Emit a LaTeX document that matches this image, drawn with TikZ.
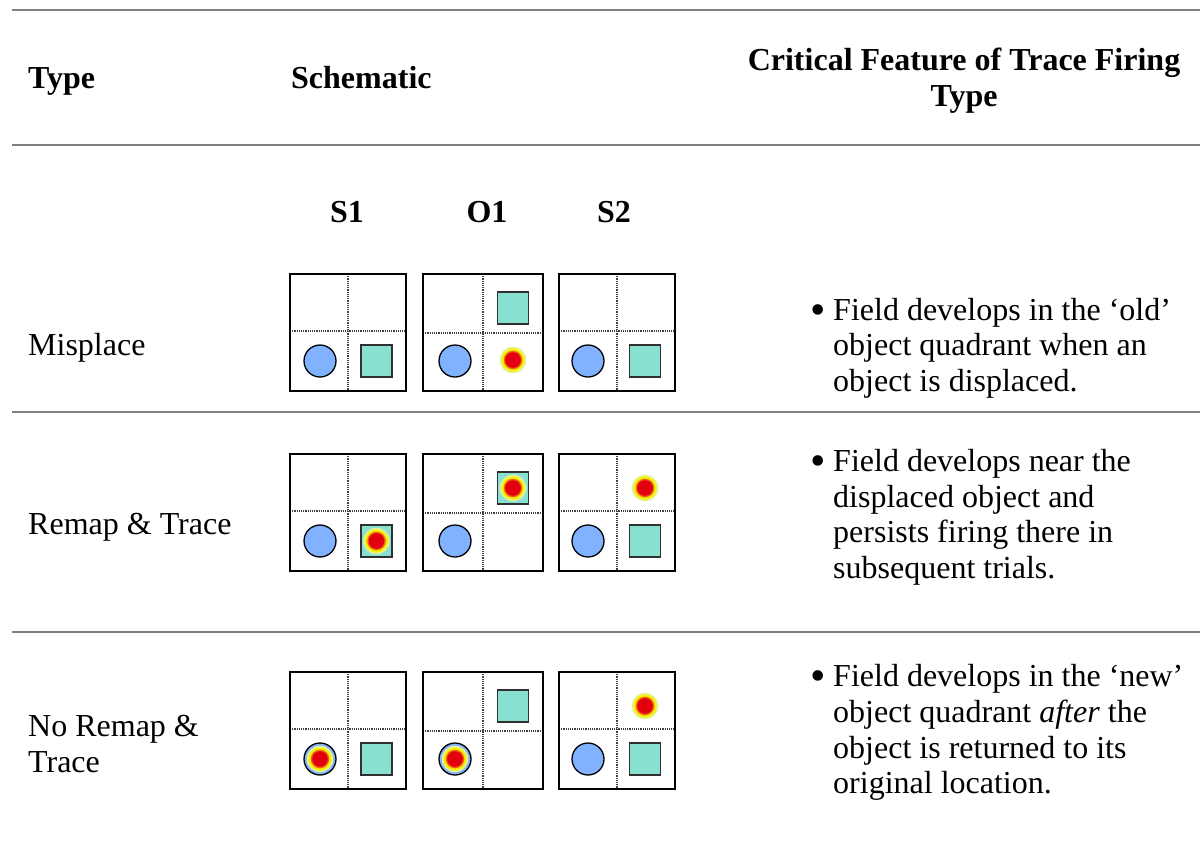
\documentclass[tikz,border=0pt]{standalone}
\usepackage{fontspec}
\setmainfont{Liberation Serif}
\definecolor{rulegray}{HTML}{808080}
\definecolor{objblue}{HTML}{80B2FF}
\definecolor{objteal}{HTML}{88E0D0}
\definecolor{sqedge}{HTML}{303030}
\definecolor{divgray}{HTML}{404040}
\definecolor{fhalo}{HTML}{E8F290}
\definecolor{fyellow}{HTML}{F4EE00}
\definecolor{forange}{HTML}{F06010}
\definecolor{fred}{HTML}{E2000F}
\newcommand\bodyfont{\fontsize{32}{36}\selectfont}
\newcommand\bulletfont{\fontsize{44}{48}\selectfont}
% panel: left, top, right, vertical divider x, horizontal divider offset
\newcommand\drawpanel[5]{%
  \draw[divider] (#4,#2) -- (#4,#2+117);
  \draw[divider] (#1,#2+#5) -- (#3,#2+#5);
  \draw[panelbox] (#1,#2) rectangle (#3,#2+117);}
\newcommand\objcircle[2]{\fill[objblue] (#1,#2) circle[radius=16pt];}
\newcommand\objcircleedge[2]{\draw[black,line width=1.3pt] (#1,#2) circle[radius=16pt];}
\newcommand\objsquare[2]{\filldraw[fill=objteal,draw=sqedge,line width=1.6pt] (#1-15.5,#2-16) rectangle (#1+15.5,#2+16);}
\newcommand\firing[2]{%
  \fill[fhalo] (#1,#2) circle[radius=13.3pt];
  \fill[fyellow] (#1,#2) circle[radius=11.5pt];
  \fill[forange] (#1,#2) circle[radius=9.3pt];
  \fill[fred] (#1,#2) circle[radius=7.8pt];}
\begin{document}
\begin{tikzpicture}[x=1pt,y=-1pt,
  rule/.style={draw=rulegray,line width=2pt},
  divider/.style={draw=divgray,line width=1.1pt,dash pattern=on 1.1pt off 1.1pt},
  panelbox/.style={draw=black,line width=2pt},
  lbl/.style={anchor=base west,inner sep=0pt,font=\bodyfont},
  hdr/.style={anchor=base west,inner sep=0pt,font=\bodyfont\bfseries},
  hdrc/.style={anchor=base,inner sep=0pt,font=\bodyfont\bfseries},
  bul/.style={anchor=base,inner sep=0pt,font=\bulletfont}]
\useasboundingbox (0,0) rectangle (1200,846);
\fill[white] (0,0) rectangle (1200,846);
% rules
\coordinate (r1a) at (12,10);  \coordinate (r1b) at (1200,10);
\coordinate (r2a) at (12,145); \coordinate (r2b) at (1200,145);
\coordinate (r3a) at (12,412); \coordinate (r3b) at (1200,412);
\coordinate (r4a) at (12,632); \coordinate (r4b) at (1200,632);
\draw[rule] (r1a) -- (r1b);
\draw[rule] (r2a) -- (r2b);
\draw[rule] (r3a) -- (r3b);
\draw[rule] (r4a) -- (r4b);
% header
\node[hdr] (htype) at (28,88) {Type};
\node[hdr] (hschem) at (291,88) {Schematic};
\node[hdrc] (hcrit1) at (964,70) {Critical Feature of Trace Firing};
\node[hdrc] (hcrit2) at (964,106) {Type};
\node[hdrc] (s1) at (347,222) {S1};
\node[hdrc] (o1) at (487,222) {O1};
\node[hdrc] (s2) at (614,222) {S2};
% row labels
\node[lbl] (misplace) at (28,355) {Misplace};
\node[lbl] (remap) at (28,534) {Remap \& Trace};
\node[lbl] (noremap1) at (28,736) {No Remap \&};
\node[lbl] (noremap2) at (28,772) {Trace};
% row 1 text
\node[bul] (b1) at (818,324) {•};
\node[lbl] (t11) at (833,320) {Field develops in the ‘old’};
\node[lbl] (t12) at (833,355.5) {object quadrant when an};
\node[lbl] (t13) at (833,391) {object is displaced.};
% row 2 text
\node[bul] (b2) at (818,475) {•};
\node[lbl] (t21) at (833,471) {Field develops near the};
\node[lbl] (t22) at (833,507) {displaced object and};
\node[lbl] (t23) at (833,542) {persists firing there in};
\node[lbl] (t24) at (833,578) {subsequent trials.};
% row 3 text
\node[bul] (b3) at (818,690) {•};
\node[lbl] (t31) at (833,686) {Field develops in the ‘new’};
\node[lbl] (t32) at (833,722) {object quadrant \textit{after} the};
\node[lbl] (t33) at (833,758) {object is returned to its};
\node[lbl] (t34) at (833,793) {original location.};
% ---------- row 1 (top 274)
\drawpanel{290}{274}{406}{348}{57}
\objcircle{320}{361}\objcircleedge{320}{361}
\objsquare{376.5}{361}
\drawpanel{423}{274}{543}{483}{59}
\objsquare{513}{308}
\objcircle{455}{361}\objcircleedge{455}{361}
\firing{513}{360}
\drawpanel{559}{274}{675}{617}{57}
\objcircle{588}{361}\objcircleedge{588}{361}
\objsquare{645}{361}
% ---------- row 2 (top 454)
\drawpanel{290}{454}{406}{348}{57}
\objcircle{320}{541}\objcircleedge{320}{541}
\objsquare{376.5}{541}
\firing{376.5}{541}
\drawpanel{423}{454}{543}{483}{59}
\objsquare{513}{488}
\firing{513}{488}
\objcircle{455}{541}\objcircleedge{455}{541}
\drawpanel{559}{454}{675}{617}{57}
\firing{645}{488}
\objcircle{588}{541}\objcircleedge{588}{541}
\objsquare{645}{541}
% ---------- row 3 (top 672)
\drawpanel{290}{672}{406}{348}{57}
\objcircle{320}{759}\firing{320}{759}\objcircleedge{320}{759}
\objsquare{376.5}{759}
\drawpanel{423}{672}{543}{483}{59}
\objsquare{513}{706}
\objcircle{455}{759}\firing{455}{759}\objcircleedge{455}{759}
\drawpanel{559}{672}{675}{617}{57}
\firing{645}{706}
\objcircle{588}{759}\objcircleedge{588}{759}
\objsquare{645}{759}
\end{tikzpicture}
\end{document}
